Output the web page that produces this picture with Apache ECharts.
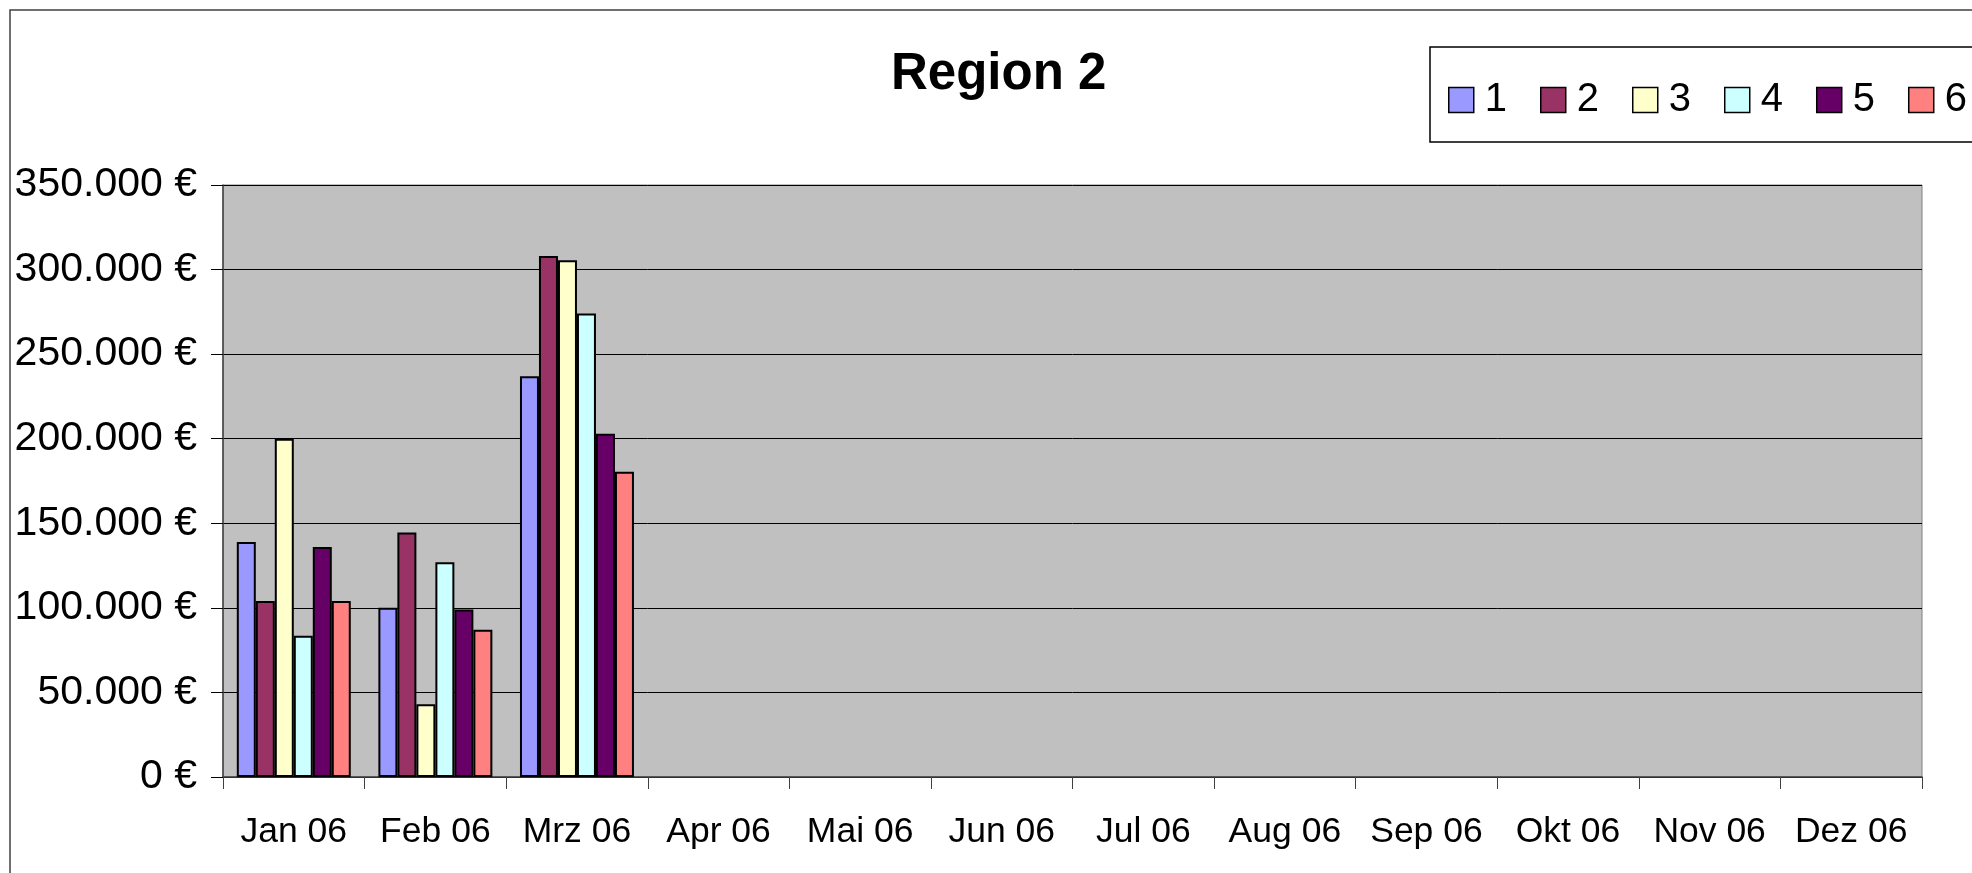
<!DOCTYPE html>
<html>
<head>
<meta charset="utf-8">
<title>Region 2</title>
<script src="https://cdn.jsdelivr.net/npm/echarts@6/dist/echarts.min.js"></script>
<style>
  html, body { margin: 0; padding: 0; background: #fff; }
  #chart { width: 1972px; height: 873px; }
</style>
</head>
<body>
<div id="chart"></div>
<script>
// Monthly revenue per group, Region 2 (only Jan-Mrz filled in)
const months = ['Jan 06', 'Feb 06', 'Mrz 06', 'Apr 06', 'Mai 06', 'Jun 06',
  'Jul 06', 'Aug 06', 'Sep 06', 'Okt 06', 'Nov 06', 'Dez 06']
const seriesNames = ['1', '2', '3', '4', '5', '6']
const values1 = [139000, 100000, 237000]
const values2 = [104000, 144500, 308000]
const values3 = [200000, 43000, 305500]
const values4 = [83500, 127000, 274000]
const values5 = [136000, 99000, 203000]
const values6 = [104000, 87000, 180500]
const allValues = [values1, values2, values3, values4, values5, values6]

// classic Excel palette
const colors = ['#9999FF', '#993366', '#FFFFCC', '#CCFFFF', '#660066', '#FF8080']

const FONT = '"Liberation Sans", Arial, sans-serif'

// 350000 -> "350.000 €"
function formatEuro(v) {
  return String(v).replace(/\B(?=(\d{3})+(?!\d))/g, '.') + ' €'
}

const chart = echarts.init(document.getElementById('chart'))

chart.setOption({
  backgroundColor: '#fff',
  animation: false,
  textStyle: { fontFamily: FONT },
  title: {
    text: 'Region 2',
    left: 891,
    top: 49,
    padding: 0,
    textStyle: { fontFamily: FONT, fontSize: 51, fontWeight: 'bold', color: '#000' }
  },
  legend: {
    data: seriesNames,
    left: 1448,
    top: 80,
    width: 900,
    padding: 0,
    icon: 'rect',
    itemWidth: 25,
    itemHeight: 25,
    itemGap: 33,
    itemStyle: { borderColor: '#000', borderWidth: 1.5 },
    textStyle: { fontFamily: FONT, fontSize: 40, color: '#000', padding: [0, 0, 0, 6] }
  },
  graphic: [
    // outer chart frame
    {
      type: 'rect',
      shape: { x: 10, y: 10, width: 2100, height: 1000 },
      style: { fill: null, stroke: '#404040', lineWidth: 1.5 },
      silent: true
    },
    // legend frame
    {
      type: 'rect',
      shape: { x: 1430, y: 47, width: 700, height: 95 },
      style: { fill: null, stroke: '#000', lineWidth: 1.5 },
      silent: true
    }
  ],
  grid: {
    left: 223,
    top: 185,
    width: 1699,
    height: 592,
    show: true,
    backgroundColor: '#C0C0C0',
    borderColor: '#808080',
    borderWidth: 1
  },
  xAxis: {
    type: 'category',
    data: months,
    boundaryGap: true,
    axisLine: { lineStyle: { color: '#404040', width: 1.5 } },
    axisTick: { show: true, length: 12, lineStyle: { color: '#404040' } },
    axisLabel: { fontFamily: FONT, fontSize: 35.5, color: '#000', margin: 37, interval: 0 }
  },
  yAxis: {
    type: 'value',
    min: 0,
    max: 350000,
    interval: 50000,
    axisLine: { show: true, lineStyle: { color: '#404040', width: 1.5 } },
    axisTick: { show: true, length: 12, lineStyle: { color: '#000' } },
    axisLabel: { fontFamily: FONT, fontSize: 41, color: '#000', margin: 26, formatter: formatEuro },
    splitLine: { show: true, lineStyle: { color: '#000', width: 1 } }
  },
  series: seriesNames.map((name, i) => ({
    name,
    type: 'bar',
    data: allValues[i],
    barGap: 0,
    barCategoryGap: '19.5%',
    itemStyle: { color: colors[i], borderColor: '#000', borderWidth: 2 }
  }))
})
</script>
</body>
</html>
